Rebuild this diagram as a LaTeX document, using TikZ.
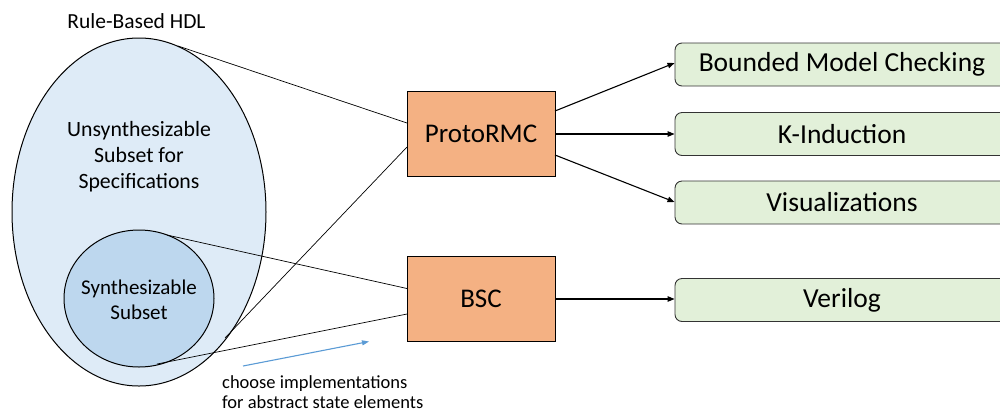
\documentclass[tikz,border=0pt]{standalone}
\usepackage{fontspec}
\setmainfont{Carlito}
\usetikzlibrary{shapes.geometric,arrows.meta}
\definecolor{outerfill}{HTML}{DEEBF7}
\definecolor{innerfill}{HTML}{BDD7EE}
\definecolor{toolfill}{HTML}{F4B183}
\definecolor{goalfill}{HTML}{E2F0D9}
\definecolor{hintblue}{HTML}{5B9BD5}
\newcommand{\fs}[2]{\fontsize{#1}{#2}\selectfont}
\tikzset{
  setshape/.style={ellipse, draw=black, line width=1pt, inner sep=0pt},
  toolbox/.style={draw=black, line width=0.9pt, fill=toolfill, inner sep=0pt,
    minimum width=148pt, minimum height=85pt, font=\fs{27}{32}},
  goalbox/.style={draw=black!80, line width=0.9pt, fill=goalfill, rounded corners=7pt,
    inner sep=0pt, minimum width=334pt, minimum height=43pt, font=\fs{27.5}{32}},
  thin link/.style={draw=black, line width=0.7pt},
  flow/.style={draw=black, line width=1.1pt, -{Triangle[length=7pt,width=5.5pt]}},
  hint/.style={draw=hintblue, line width=1.1pt, -{Triangle[length=7pt,width=5pt]}}
}
\begin{document}
\begin{tikzpicture}[x=1pt,y=-1pt]
\useasboundingbox (0,0) rectangle (1000,413);
\clip (0,0) rectangle (1000,413);

% language subsets
\node[setshape, fill=outerfill, minimum width=254pt, minimum height=348pt] (hdl) at (139,212) {};
\node[setshape, fill=innerfill, minimum width=150pt, minimum height=137pt] (synth) at (139,298.5) {};
\node[font=\fs{21.5}{26}] (hdltitle) at (136.5,21) {Rule-Based HDL};
\node[font=\fs{21.8}{26}, align=center] (spec) at (139,157) {Unsynthesizable\\Subset for\\Specifications};
\node[font=\fs{21}{25}, align=center] (synthtxt) at (139,300) {Synthesizable\\Subset};

% tools
\node[toolbox] (rmc) at (481,133.5) {ProtoRMC};
\node[toolbox] (bsc) at (481,299) {BSC};

% outputs
\node[goalbox] (bmc) at (842,64.5) {Bounded Model Checking};
\node[goalbox] (kind) at (842,134) {K-Induction};
\node[goalbox] (vis) at (842,202.5) {Visualizations};
\node[goalbox] (ver) at (842,300) {Verilog};

% tangent-style links from the subsets to the tools
\coordinate (hdltop) at (178,46);
\coordinate (hdlbot) at (225,338);
\coordinate (syntop) at (167,235);
\coordinate (synbot) at (157,364);
\coordinate (rmcA) at (407,123);
\coordinate (rmcB) at (407,147);
\coordinate (bscA) at (407,288.5);
\coordinate (bscB) at (407,314);
\draw[thin link] (hdltop) -- (rmcA);
\draw[thin link] (hdlbot) -- (rmcB);
\draw[thin link] (syntop) -- (bscA);
\draw[thin link] (synbot) -- (bscB);

% tool outputs
\coordinate (rmcO1) at (555,111);
\coordinate (rmcO3) at (555,155);
\draw[flow] (rmcO1) -- (bmc.west |- 0,63);
\draw[flow] (rmc.east |- kind.west) -- (kind.west);
\draw[flow] (rmcO3) -- (vis.west |- 0,202);
\draw[flow] (bsc.east) -- (ver.west |- bsc.east);

% refinement hint
\coordinate (hintS) at (243,366);
\coordinate (hintE) at (369,341.5);
\draw[hint] (hintS) -- (hintE);
\node[font=\fs{18.5}{20}, align=left, anchor=north west, inner sep=0pt] (hinttxt) at (222,375)
  {choose implementations\\for abstract state elements};
\end{tikzpicture}
\end{document}
